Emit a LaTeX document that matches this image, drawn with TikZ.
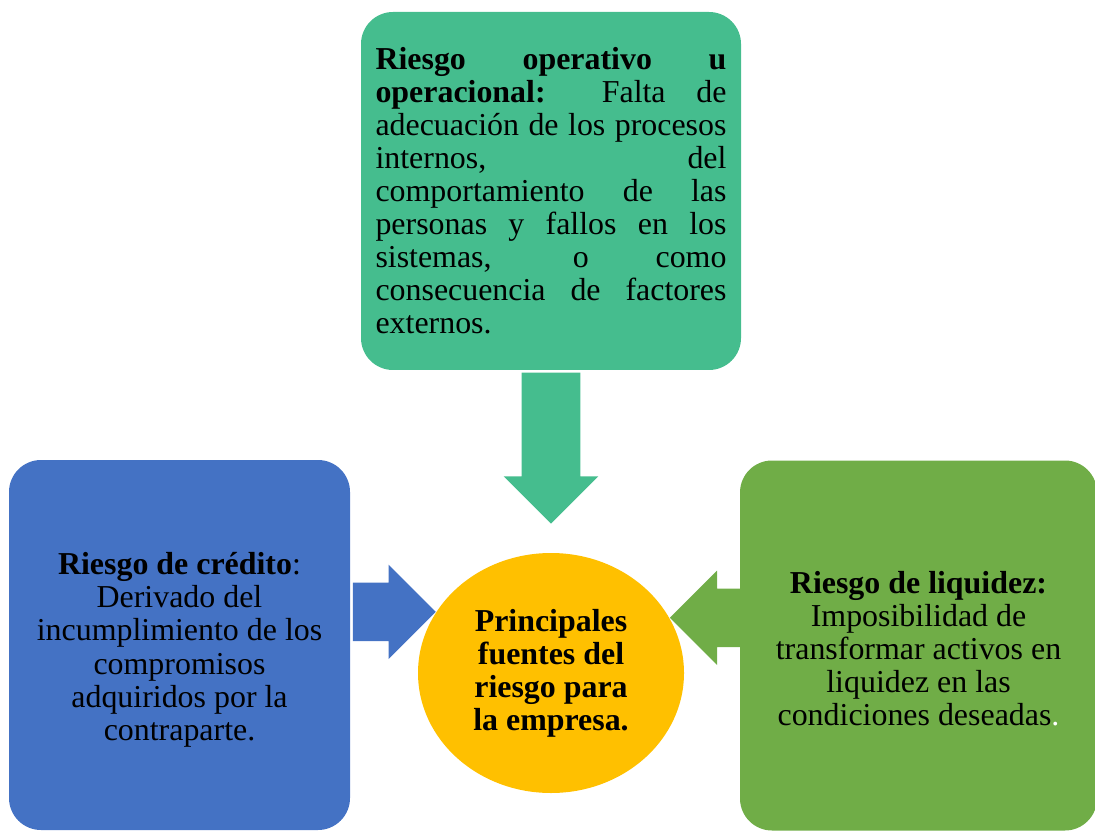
\documentclass[tikz,border=0pt]{standalone}
\usepackage{fontspec}
\setmainfont{Liberation Serif}
\usetikzlibrary{shapes.arrows, shapes.geometric, positioning}
\definecolor{opgreen}{HTML}{45BD8E}
\definecolor{credblue}{HTML}{4472C4}
\definecolor{liqgreen}{HTML}{70AD47}
\definecolor{coregold}{HTML}{FFC000}

\begin{document}
\begin{tikzpicture}[
  riskbox/.style={
    fill=#1, rounded corners=0.8cm, text=black, inner sep=0pt,
    font=\fontsize{22.7}{23.5}\selectfont
  },
  sidebox/.style={
    riskbox=#1, minimum height=9.25cm, align=center
  },
  corenode/.style={
    ellipse, fill=coregold, minimum width=6.65cm, minimum height=6cm,
    inner sep=0pt, align=center, text=black,
    font=\fontsize{22.7}{23.5}\selectfont\bfseries
  },
  blockarrow/.style={
    single arrow, fill=#1, inner xsep=0pt, inner ysep=0.725cm,
    minimum width=2.35cm, single arrow head extend=0.45cm
  },
]
\useasboundingbox (0,0) rectangle (27.375,20.775);

% ============================================================
% Boxes
% ============================================================

% --- Operational risk (top) ---
\node[riskbox=opgreen, text width=8.775cm, inner xsep=0.3625cm,
      minimum height=8.95cm, align=justify] (operativo) at (13.775,16.0)
  {\pretolerance=10000\tolerance=10000\hbadness=10000
   \textbf{Riesgo operativo u}\linebreak
   \textbf{operacional:} Falta de\linebreak
   adecuación de los procesos\linebreak
   internos, del\linebreak
   comportamiento de las\linebreak
   personas y fallos en los\linebreak
   sistemas, o como\linebreak
   consecuencia de factores\linebreak
   externos.};

% --- Credit risk (left) ---
\node[sidebox=credblue, minimum width=8.525cm] (credito) at (4.4875,4.65)
  {\rule{0pt}{22.6pt}\textbf{Riesgo de crédito}:\\
   Derivado del\\
   incumplimiento de los\\
   compromisos\\
   adquiridos por la\\
   contraparte.};

% --- Liquidity risk (right) ---
\node[sidebox=liqgreen, minimum width=8.925cm] (liquidez) at (22.9625,4.6375)
  {\rule{0pt}{20.5pt}\textbf{Riesgo de liquidez:}\\
   Imposibilidad de\\
   transformar activos en\\
   liquidez en las\\
   condiciones deseadas\textcolor{white}{.}};

% --- Centre ---
\node[corenode] (centro) at (13.775,3.95)
  {Principales\\fuentes del\\riesgo para\\la empresa.};

% ============================================================
% Block arrows into the centre
% ============================================================
\node[blockarrow=opgreen, minimum height=3.775cm, rotate=-90,
      anchor=tail] (arr-op) at ([yshift=-0.05cm]operativo.south) {};
\node[blockarrow=credblue, minimum height=2.075cm, anchor=tip]
  (arr-cred) at (centro.152) {};
\node[blockarrow=liqgreen, minimum height=1.75cm, rotate=180,
      anchor=tip] (arr-liq) at (centro.25) {};

\end{tikzpicture}
\end{document}
